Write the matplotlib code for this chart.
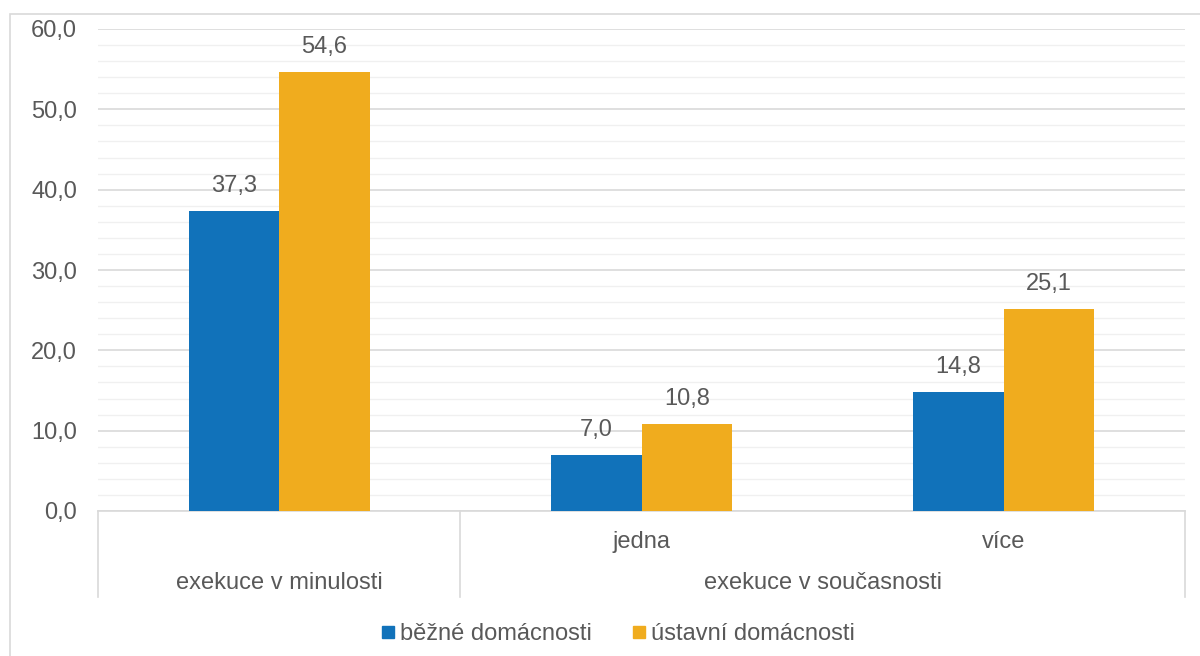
import matplotlib
matplotlib.use("Agg")
import matplotlib.pyplot as plt
from matplotlib.lines import Line2D
from matplotlib.patches import Rectangle
import numpy as np

plt.rcParams['font.family'] = ['Liberation Sans', 'DejaVu Sans']

subcats = ['', 'jedna', 'více']
groups = ['exekuce v minulosti', 'exekuce v současnosti']
group_span = [(0, 0), (1, 2)]
series = ['běžné domácnosti', 'ústavní domácnosti']
bezne = [37.3, 7.0, 14.8]
ustavni = [54.6, 10.8, 25.1]
colors = ['#1172BA', '#F0AC1E']
txt = '#595959'
grid_major = '#d9d9d9'
grid_minor = '#f0f0f0'
fs = 17

fig = plt.figure(figsize=(12, 6.56), dpi=100)
ax = fig.add_axes([98/1200, 145/656, (1185-98)/1200, (511-29)/656])

# outer chart border
fig.patches.append(Rectangle((10/1200, -0.1), 1.2, (656-14)/656 + 0.1,
                             transform=fig.transFigure, fill=False,
                             edgecolor=grid_major, linewidth=1.2))

x = np.arange(len(subcats))
w = 0.25
b1 = ax.bar(x - w/2, bezne, w, color=colors[0], zorder=3)
b2 = ax.bar(x + w/2, ustavni, w, color=colors[1], zorder=3)
for bars, vals in [(b1, bezne), (b2, ustavni)]:
    for r, v in zip(bars, vals):
        ax.annotate(f'{v:.1f}'.replace('.', ','),
                    (r.get_x() + r.get_width()/2, v),
                    xytext=(0, 18), textcoords='offset points',
                    ha='center', va='center', fontsize=fs, color=txt)

ax.set_xlim(-0.5, 2.5)
ax.set_ylim(0, 60)
ax.set_yticks(np.arange(0, 61, 10))
ax.set_yticks(np.arange(0, 61, 2), minor=True)
ax.set_yticklabels([f'{v:.1f}'.replace('.', ',') for v in np.arange(0, 61, 10)])
ax.tick_params(axis='y', which='both', length=0, pad=15, labelsize=fs,
               labelcolor=txt)
ax.grid(axis='y', which='minor', color=grid_minor, linewidth=1, zorder=0)
ax.grid(axis='y', which='major', color=grid_major, linewidth=1.2, zorder=1)
ax.set_xticks([])
for s in ['top', 'right', 'left']:
    ax.spines[s].set_visible(False)
ax.spines['bottom'].set_color(grid_major)
ax.spines['bottom'].set_linewidth(1.2)

# multi-level category axis
tr = ax.get_xaxis_transform()
y_low = -(597 - 511) / (511 - 29)
for xe in [-0.5, 0.5, 2.5]:
    ax.plot([xe, xe], [0, y_low], transform=tr, color=grid_major,
            linewidth=1.2, clip_on=False)
for xi, lab in zip(x, subcats):
    if lab:
        ax.text(xi, -(542 - 511) / 482, lab, transform=tr, ha='center',
                va='center', fontsize=fs, color=txt)
for (a, b), lab in zip(group_span, groups):
    ax.text((a + b) / 2, -(583 - 511) / 482, lab, transform=tr,
            ha='center', va='center', fontsize=fs, color=txt)

handles = [Line2D([], [], marker='s', linestyle='none', markersize=9,
                  markerfacecolor=c, markeredgecolor=c) for c in colors]
fig.legend(handles, series, loc='center', bbox_to_anchor=(617/1200, 1 - 634/656),
           ncol=2, frameon=False, fontsize=fs, labelcolor=txt,
           handletextpad=0.1, columnspacing=1.6, handlelength=0.8)

fig.savefig('out.png', dpi=100)
